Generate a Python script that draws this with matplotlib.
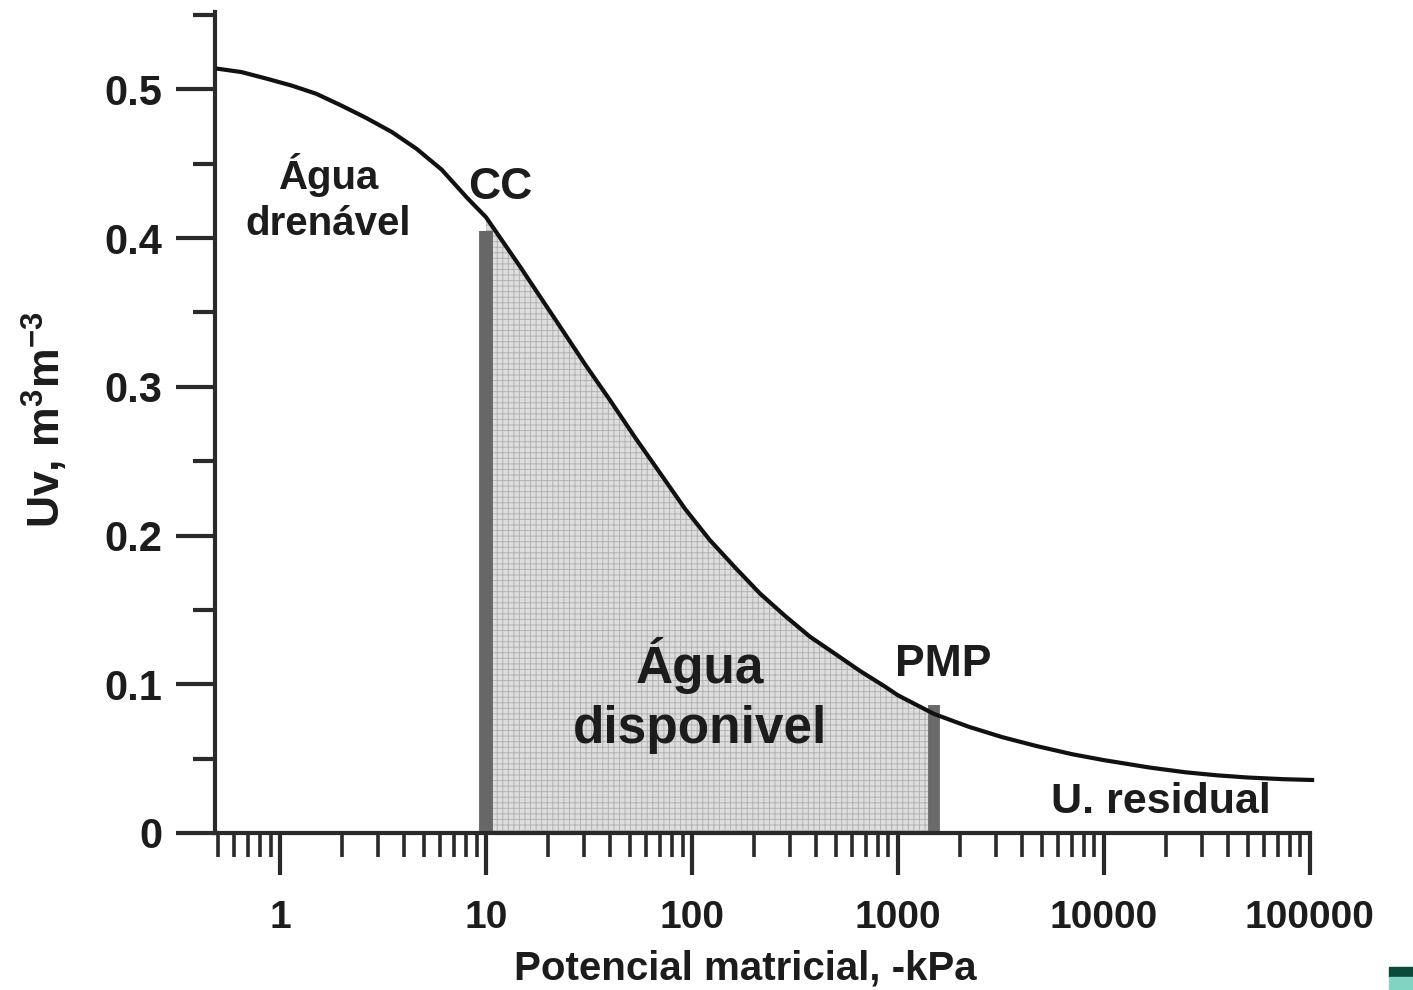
import matplotlib
matplotlib.use("Agg")
import matplotlib.pyplot as plt
import numpy as np
from matplotlib.patches import Rectangle
from matplotlib.ticker import LogLocator, FixedLocator, NullFormatter, FuncFormatter

plt.rcParams["font.family"] = ["Liberation Sans", "DejaVu Sans"]
plt.rcParams["font.weight"] = "bold"
plt.rcParams["mathtext.fontset"] = "custom"
plt.rcParams["mathtext.rm"] = "Liberation Sans:bold"
plt.rcParams["mathtext.bf"] = "Liberation Sans:bold"
plt.rcParams["mathtext.it"] = "Liberation Sans:bold"
plt.rcParams["hatch.linewidth"] = 0.7

# retention curve (potential in -kPa, water content m3/m3)
psi = [0.49, 0.65, 0.87, 1.14, 1.5, 1.99, 2.6, 3.49, 4.6, 6.09, 8.1, 10,
       14.6, 23, 30.3, 40, 52.9, 70, 92.5, 122, 162, 214, 283, 374, 494, 654,
       864, 1000, 1500, 2200, 3200, 4700, 7000, 10000, 16700, 25000, 35300,
       50000, 74000, 105000]
theta = [0.514, 0.5116, 0.507, 0.5025, 0.497, 0.489, 0.481, 0.4713, 0.460, 0.446,
         0.427, 0.414, 0.381, 0.340, 0.315, 0.291, 0.266, 0.242, 0.218, 0.197,
         0.1785, 0.1610, 0.1460, 0.132, 0.1206, 0.109, 0.0985, 0.0926, 0.080,
         0.0715, 0.0645, 0.0585, 0.053, 0.049, 0.044, 0.0408, 0.0388, 0.0373,
         0.0362, 0.0356]

cc_psi, cc_theta = 10, 0.405
pmp_psi, pmp_theta = 1500, 0.086

x_ticks = [1, 10, 100, 1000, 10000, 100000]
y_ticks = [0, 0.1, 0.2, 0.3, 0.4, 0.5]
y_minor = [0.05, 0.15, 0.25, 0.35, 0.45, 0.55]

ink = "#1c1c1c"

fig = plt.figure(figsize=(14.13, 9.9), dpi=100)
ax = fig.add_axes([215 / 1413, 157 / 990, 1100 / 1413, 821 / 990])

psi_a = np.array(psi)
theta_a = np.array(theta)
mask = (psi_a >= cc_psi) & (psi_a <= pmp_psi)
ax.fill_between(psi_a, 0, theta_a, where=mask, facecolor="#dedede",
                edgecolor="#b3b3b3", hatch="+++", linewidth=0, zorder=1)

ax.vlines(cc_psi, 0, cc_theta, colors="#676767", linewidth=10, zorder=2)
ax.vlines(pmp_psi, 0, pmp_theta, colors="#6a6a6a", linewidth=8.5, zorder=2)

ax.plot(psi, theta, color="#111111", linewidth=3, zorder=3,
        solid_capstyle="butt", solid_joinstyle="round")

ax.set_xscale("log")
ax.set_xlim(0.483, 1.06e5)
ax.set_ylim(0, 0.552)

for s in ["top", "right"]:
    ax.spines[s].set_visible(False)
for s in ["left", "bottom"]:
    ax.spines[s].set_linewidth(3)
    ax.spines[s].set_color("#2a2a2a")
ax.spines["bottom"].set_bounds(0.483, 1e5)

ax.xaxis.set_major_locator(FixedLocator(x_ticks))
ax.xaxis.set_minor_locator(LogLocator(base=10, subs=np.arange(2, 10), numticks=20))
ax.xaxis.set_major_formatter(FuncFormatter(lambda v, p: f"{v:g}" if v < 1e5 else "100000"))
ax.xaxis.set_minor_formatter(NullFormatter())
ax.yaxis.set_major_locator(FixedLocator(y_ticks))
ax.yaxis.set_minor_locator(FixedLocator(y_minor))
ax.yaxis.set_major_formatter(FuncFormatter(lambda v, p: "0" if v == 0 else f"{v:.1f}"))

ax.tick_params(axis="x", which="major", direction="out", length=30, width=3,
               color="#2a2a2a", labelsize=28, pad=18, labelcolor=ink)
ax.tick_params(axis="x", which="minor", direction="out", length=17, width=2.6,
               color="#2a2a2a")
ax.tick_params(axis="y", which="major", direction="out", length=28, width=3,
               color="#2a2a2a", labelsize=30, pad=10, labelcolor=ink)
ax.tick_params(axis="y", which="minor", direction="out", length=16, width=3,
               color="#2a2a2a")

ax.set_xlabel("Potencial matricial, -kPa", fontsize=29, fontweight="bold", color=ink)
ax.xaxis.set_label_coords(0.482, -0.1425)
ax.set_ylabel("Uv, m$^{3}$m$^{-3}$", fontsize=32, fontweight="bold", color=ink)
ax.yaxis.set_label_coords(-0.132, 0.503)

ax.text(1.71, 0.427, "Água\ndrenável", fontsize=29, fontweight="bold", color=ink,
        ha="center", va="center", linespacing=1.25)
ax.text(11.7, 0.434, "CC", fontsize=32, fontweight="bold", color=ink,
        ha="center", va="center")
ax.text(109, 0.0926, "Água\ndisponivel", fontsize=37, fontweight="bold", color=ink,
        ha="center", va="center", linespacing=1.3)
ax.text(1660, 0.113, "PMP", fontsize=32, fontweight="bold", color=ink,
        ha="center", va="center")
ax.text(19000, 0.021, "U. residual", fontsize=31, fontweight="bold", color=ink,
        ha="center", va="center")

# small corner mark in the original scan
fig.patches.append(Rectangle((1389 / 1413, 13 / 990), 24 / 1413, 10 / 990,
                             transform=fig.transFigure, color="#0b4a3b"))
fig.patches.append(Rectangle((1389 / 1413, 0), 24 / 1413, 13 / 990,
                             transform=fig.transFigure, color="#80d4c1"))

fig.savefig("out.png", dpi=100)
